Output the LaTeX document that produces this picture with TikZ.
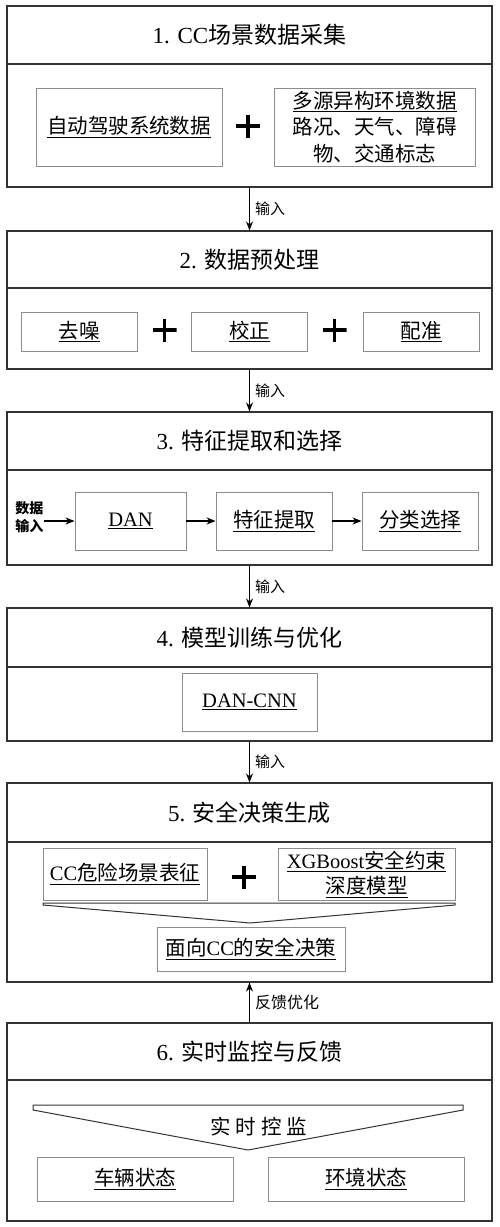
\documentclass[tikz,border=0pt]{standalone}
\usepackage{fontspec}
\setmainfont{Liberation Serif}
\newfontfamily\cjk{Noto Sans CJK SC}
\newcommand\zh[1]{{\cjk #1}}
\usetikzlibrary{arrows.meta}
\begin{document}
\begin{tikzpicture}[x=1pt,y=-1pt,
  outer/.style={draw=black!80, line width=1.1pt, minimum width=485pt, inner sep=0pt},
  hdr/.style={outer, minimum height=58pt, font=\fontsize{23}{27}\selectfont},
  inbox/.style={draw=black!45, line width=0.9pt, inner sep=0pt, align=center, font=\fontsize{20.5}{26.5}\selectfont},
  arr/.style={-{Stealth[length=9pt,width=7pt]}, line width=1.2pt, black},
  lbl/.style={font=\fontsize{15}{18}\selectfont, inner sep=0pt, right=5pt},
  plus/.style={minimum width=24pt, minimum height=23pt, inner sep=0pt,
    path picture={\draw[line width=3.2pt]
      (path picture bounding box.west) -- (path picture bounding box.east)
      (path picture bounding box.north) -- (path picture bounding box.south);}},
  funnel/.style={draw=black!80, line width=1pt, line join=miter}
]
\useasboundingbox[fill=white] (0,0) rectangle (500,1227);

% ---------- Section 1 ----------
\node[hdr] (h1) at (249.5,35) {1. CC\zh{场景数据采集}};
\node[outer, minimum height=123pt] (b1) at (249.5,125.5) {};
\node[inbox, minimum width=186pt, minimum height=78pt] (s1a) at (129,127) {\underline{\zh{自动驾驶系统数据}}};
\node[inbox, minimum width=201pt, minimum height=78pt] (s1b) at (374.5,127)
  {\underline{\zh{多源异构环境数据}}\\\zh{路况、天气、障碍}\\\zh{物、交通标志}};
\node[plus] (p1) at (248,126) {};

% ---------- Section 2 ----------
\node[hdr, minimum height=57pt] (h2) at (249.5,259.5) {2. \zh{数据预处理}};
\node[outer, minimum height=81pt] (b2) at (249.5,328.5) {};
\node[inbox, minimum width=116pt, minimum height=39pt] (s2a) at (79,331.5) {\underline{\zh{去噪}}};
\node[inbox, minimum width=116pt, minimum height=39pt] (s2b) at (249.5,331.5) {\underline{\zh{校正}}};
\node[inbox, minimum width=116pt, minimum height=39pt] (s2c) at (421,331.5) {\underline{\zh{配准}}};
\node[plus] (p2a) at (164.5,330) {};
\node[plus] (p2b) at (334.5,330) {};

% ---------- Section 3 ----------
\node[hdr] (h3) at (249.5,441) {3. \zh{特征提取和选择}};
\node[outer, minimum height=95pt] (b3) at (249.5,517.5) {};
\node[inbox, minimum width=111pt, minimum height=58pt] (dan) at (130.5,521) {\underline{DAN}};
\node[inbox, minimum width=116pt, minimum height=58pt] (fe) at (274,521) {\underline{\zh{特征提取}}};
\node[inbox, minimum width=116pt, minimum height=58pt] (cs) at (420,521) {\underline{\zh{分类选择}}};
\node[inner sep=0pt, align=center, font=\fontsize{14}{17.5}\selectfont\cjk\bfseries] (din) at (29.5,517) {数据\\输入};
\draw[arr] (din.east |- dan.west) -- (dan.west);
\draw[arr] (dan) -- (fe);
\draw[arr] (fe) -- (cs);

% ---------- Section 4 ----------
\node[hdr, minimum height=59pt] (h4) at (249.5,637.5) {4. \zh{模型训练与优化}};
\node[outer, minimum height=74pt] (b4) at (249.5,704) {};
\node[inbox, minimum width=135pt, minimum height=58pt] (dc) at (249.5,702) {\underline{DAN-CNN}};

% ---------- Section 5 ----------
\node[hdr, minimum height=59pt] (h5) at (249.5,812.5) {5. \zh{安全决策生成}};
\node[outer, minimum height=140pt] (b5) at (249.5,912) {};
\node[inbox, minimum width=164pt, minimum height=52pt] (cc) at (125,874) {\underline{CC\zh{危险场景表征}}};
\node[inbox, minimum width=177pt, minimum height=52pt] (xg) at (366.5,874)
  {\underline{XGBoost\zh{安全约束}}\\[-1pt]\underline{\zh{深度模型}}};
\node[plus] (p5) at (244,877) {};
\draw[funnel] (43,903) -- (455,903) -- (455,905) -- (250,923) -- (43,905) -- cycle;
\node[inbox, minimum width=188pt, minimum height=44pt] (dec) at (251,949) {\underline{\zh{面向}CC\zh{的安全决策}}};

% ---------- Section 6 ----------
\node[hdr, minimum height=57pt] (h6) at (249.5,1051.5) {6. \zh{实时监控与反馈}};
\node[outer, minimum height=141pt] (b6) at (249.5,1150.5) {};
\draw[funnel] (33,1105) -- (463,1105) -- (463,1110) -- (248,1150) -- (33,1110) -- cycle;
\node[inner sep=0pt, font=\fontsize{20.5}{24}\selectfont] (rt) at (259,1127)
  {\zh{实\hspace{5pt}时\hspace{5pt}控\hspace{5pt}监}};
\node[inbox, minimum width=196pt, minimum height=44pt] (veh) at (135,1179) {\underline{\zh{车辆状态}}};
\node[inbox, minimum width=196pt, minimum height=44pt] (env) at (366,1179) {\underline{\zh{环境状态}}};

% ---------- connectors between sections ----------
\draw[arr] (b1.south) -- node[lbl] {\zh{输入}} (h2.north);
\draw[arr] (b2.south) -- node[lbl] {\zh{输入}} (h3.north);
\draw[arr] (b3.south) -- node[lbl] {\zh{输入}} (h4.north);
\draw[arr] (b4.south) -- node[lbl] {\zh{输入}} (h5.north);
\draw[arr] (h6.north) -- node[lbl, font=\fontsize{16}{19}\selectfont] {\zh{反馈优化}} (b5.south);
\end{tikzpicture}
\end{document}
